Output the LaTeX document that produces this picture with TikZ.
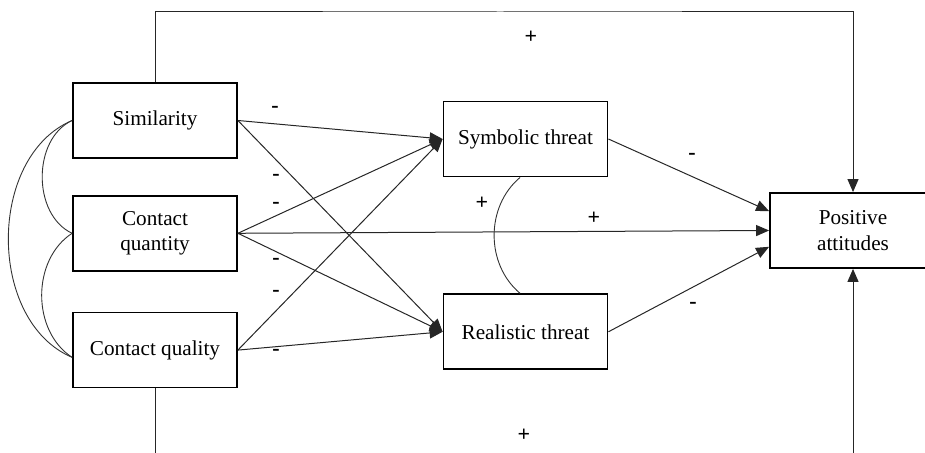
\documentclass[tikz,border=0pt]{standalone}
\usepackage{fontspec}
\setmainfont{Liberation Serif}
\usetikzlibrary{arrows.meta, positioning}

\begin{document}
\begin{tikzpicture}[
    x=0.5pt, y=0.5pt,
    box/.style={rectangle, draw=black, line width=0.9pt, fill=white,
                minimum width=82pt, minimum height=37.5pt, align=center,
                inner sep=1pt, font=\fontsize{10.6}{12.6}\selectfont},
    arr/.style={-{Triangle[length=6.5pt, width=5.5pt]}, line width=0.5pt, black!85},
    link/.style={line width=0.45pt, black!80},
    sign/.style={inner sep=0pt, font=\fontsize{11}{13}\selectfont\bfseries},
]
\useasboundingbox (0,0) rectangle (925,453);
\clip (0,0) rectangle (925,453);

\node[box] (sim) at (155,332.5) {Similarity};
\node[box, below=18pt of sim] (qty) {Contact\\quantity};
\node[box, below=20pt of qty] (qul) {Contact quality};
\node[box] (sym) at (525.5,314) {Symbolic threat};
\node[box, below=58pt of sym] (real) {Realistic threat};
\node[box, minimum width=83pt] (pos) at (853,222.5) {Positive\\attitudes};

\coordinate (top) at (500,441);
\coordinate (bot) at (500,-20);

% paths into the threats
\draw[arr] (sim.east) -- (sym.west);
\draw[arr] (sim.east) -- (real.west);
\draw[arr] (qty.east) -- (sym.west);
\draw[arr] (qty.east) -- (real.west);
\draw[arr] (qul.east) -- (sym.west);
\draw[arr] (qul.east) -- (real.west);

% paths into attitudes
\draw[arr] (qty.east) -- (pos.west);
\draw[arr] (sym.east) -- (pos.167);
\draw[arr] (real.east) -- (pos.191);
\draw[arr] (sim.north) |- (top) -| (pos.north);
\draw[arr] (qul.south) |- (bot) -| (pos.south);

% correlations
\draw[link] (sim.west) to[out=205, in=155] (qty.west);
\draw[link] (qty.west) to[out=213, in=147] (qul.185);
\draw[link] (sim.west) to[out=203, in=157] (qul.185);
\draw[link] (sym.262) to[out=220, in=140] (real.98);

\node[sign] (m1) at (275,344) {-};
\node[sign] (m2) at (276,276) {-};
\node[sign] (m3) at (276,248) {-};
\node[sign] (m4) at (276,192) {-};
\node[sign] (m5) at (276,160) {-};
\node[sign] (m6) at (276,101) {-};
\node[sign] (m7) at (692,297) {-};
\node[sign] (m8) at (693,148) {-};
\node[sign] (p1) at (531,416) {+};
\node[sign] (p2) at (524,18) {+};
\node[sign] (p3) at (482,250) {+};
\node[sign] (p4) at (594,235) {+};
\end{tikzpicture}
\end{document}
